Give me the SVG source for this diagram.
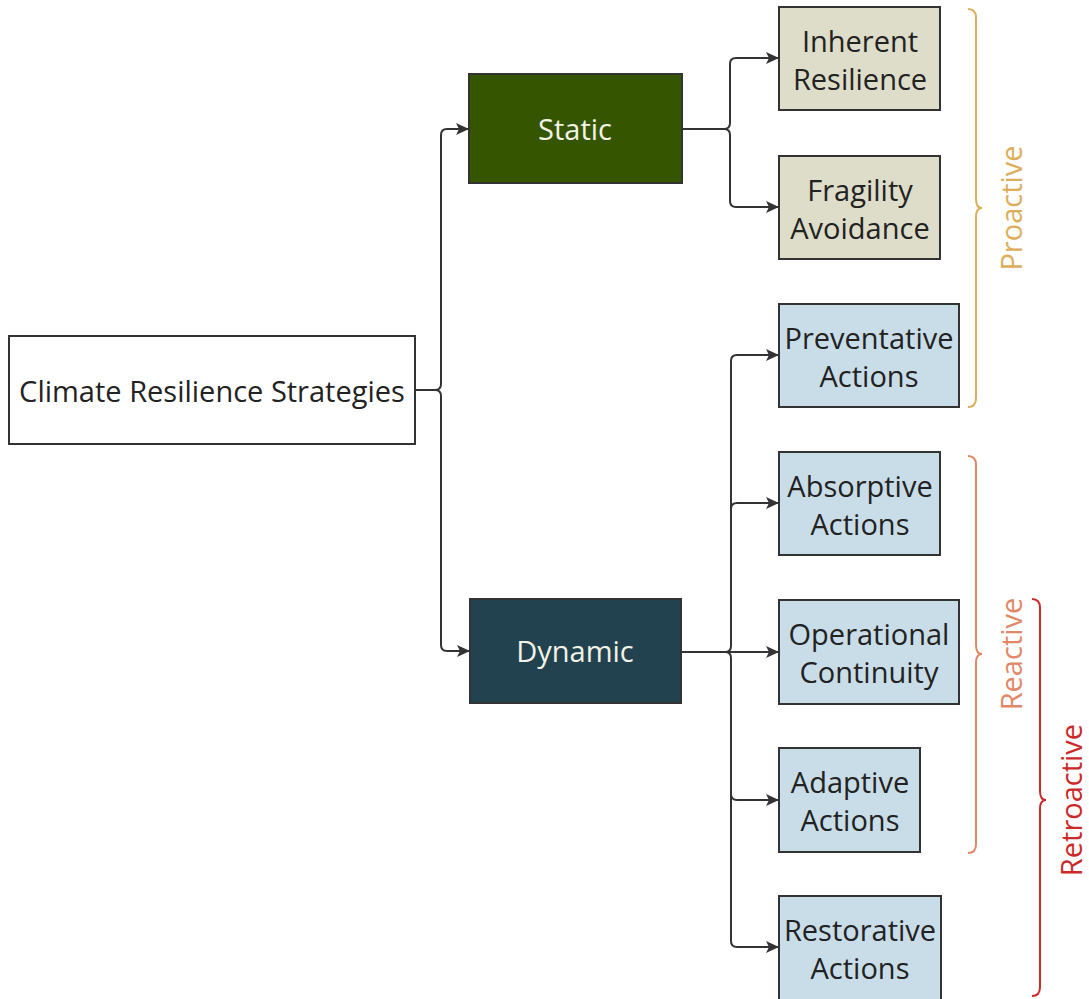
<svg xmlns="http://www.w3.org/2000/svg" width="1089" height="999" viewBox="0 0 1089 999">
<defs>
<marker id="arr" markerUnits="userSpaceOnUse" markerWidth="14" markerHeight="14" refX="13" refY="7" orient="auto">
<path d="M0,1 L13,7 L0,13 L3,7 Z" fill="#333"/>
</marker>
<style>
.box{stroke:#333;stroke-width:2}
.t{font-family:"Open Sans","Noto Sans",sans-serif;font-size:29px;fill:#222;text-anchor:middle;dominant-baseline:central}
.w{fill:#f2f2e6}
.con{fill:none;stroke:#333;stroke-width:2}
.arr{marker-end:url(#arr)}
.brace{fill:none;stroke-width:2}
</style>
</defs>
<rect width="1089" height="999" fill="#fff"/>
<g id="connectors">
<path class="con arr" d="M415,390 H435 Q441,390 441,384 V135 Q441,129 447,129 H469"/>
<path class="con arr" d="M435,390 Q441,390 441,396 V645 Q441,651 447,651 H470"/>
<path class="con arr" d="M682,129 H724 Q730,129 730,123 V64 Q730,58 736,58 H779"/>
<path class="con arr" d="M724,129 Q730,129 730,135 V201 Q730,207 736,207 H779"/>
<path class="con arr" d="M681,652 H725 Q731,652 731,646 V361 Q731,355 737,355 H779"/>
<path class="con arr" d="M725,652 Q731,652 731,658 V941 Q731,947 737,947 H779"/>
<path class="con arr" d="M731,509 Q731,503 737,503 H779"/>
<path class="con arr" d="M725,652 H779"/>
<path class="con arr" d="M731,794 Q731,800 737,800 H779"/>
</g>
<g id="root">
<rect class="box" x="9" y="336" width="406" height="108" fill="#fff"/>
<text class="t" x="212" y="390">Climate Resilience Strategies</text>
</g>
<g id="static">
<rect class="box" x="469" y="74" width="213" height="109" fill="#365500"/>
<text class="t w" x="575" y="128">Static</text>
</g>
<g id="dynamic">
<rect class="box" x="470" y="599" width="211" height="104" fill="#23424f"/>
<text class="t w" x="575" y="650">Dynamic</text>
</g>
<g id="inherent">
<rect class="box" x="779" y="7" width="161" height="103" fill="#deddc9"/>
<text class="t" x="860" y="40">Inherent</text>
<text class="t" x="860" y="78">Resilience</text>
</g>
<g id="fragility">
<rect class="box" x="779" y="156" width="161" height="103" fill="#deddc9"/>
<text class="t" x="860" y="189">Fragility</text>
<text class="t" x="860" y="227">Avoidance</text>
</g>
<g id="preventative">
<rect class="box" x="779" y="304" width="180" height="103" fill="#c9dde8"/>
<text class="t" x="869" y="337">Preventative</text>
<text class="t" x="869" y="375">Actions</text>
</g>
<g id="absorptive">
<rect class="box" x="779" y="452" width="161" height="103" fill="#c9dde8"/>
<text class="t" x="860" y="485">Absorptive</text>
<text class="t" x="860" y="523">Actions</text>
</g>
<g id="operational">
<rect class="box" x="779" y="600" width="180" height="104" fill="#c9dde8"/>
<text class="t" x="869" y="633">Operational</text>
<text class="t" x="869" y="671">Continuity</text>
</g>
<g id="adaptive">
<rect class="box" x="779" y="748" width="141" height="104" fill="#c9dde8"/>
<text class="t" x="850" y="781">Adaptive</text>
<text class="t" x="850" y="819">Actions</text>
</g>
<g id="restorative">
<rect class="box" x="779" y="896" width="162" height="110" fill="#c9dde8"/>
<text class="t" x="860" y="929">Restorative</text>
<text class="t" x="860" y="967">Actions</text>
</g>
<g id="proactive">
<path class="brace" stroke="#dcae5a" d="M968,9 Q976,9 976,18 V199 Q976,208 982,208 Q976,208 976,217 V398 Q976,407 968,407"/>
<text class="t" x="1010" y="208" style="fill:#dcae5a" transform="rotate(-90 1010 208)">Proactive</text>
</g>
<g id="reactive">
<path class="brace" stroke="#e08868" d="M968,456 Q976,456 976,465 V645 Q976,654 982,654 Q976,654 976,663 V844 Q976,853 968,853"/>
<text class="t" x="1010" y="654" style="fill:#e08868" transform="rotate(-90 1010 654)">Reactive</text>
</g>
<g id="retroactive">
<path class="brace" stroke="#cc2a2a" d="M1032,599 Q1040,599 1040,608 V791 Q1040,800 1046,800 Q1040,800 1040,809 V987 Q1040,996 1032,996"/>
<text class="t" x="1070" y="800" style="fill:#cc2a2a" transform="rotate(-90 1070 800)">Retroactive</text>
</g>
</svg>
